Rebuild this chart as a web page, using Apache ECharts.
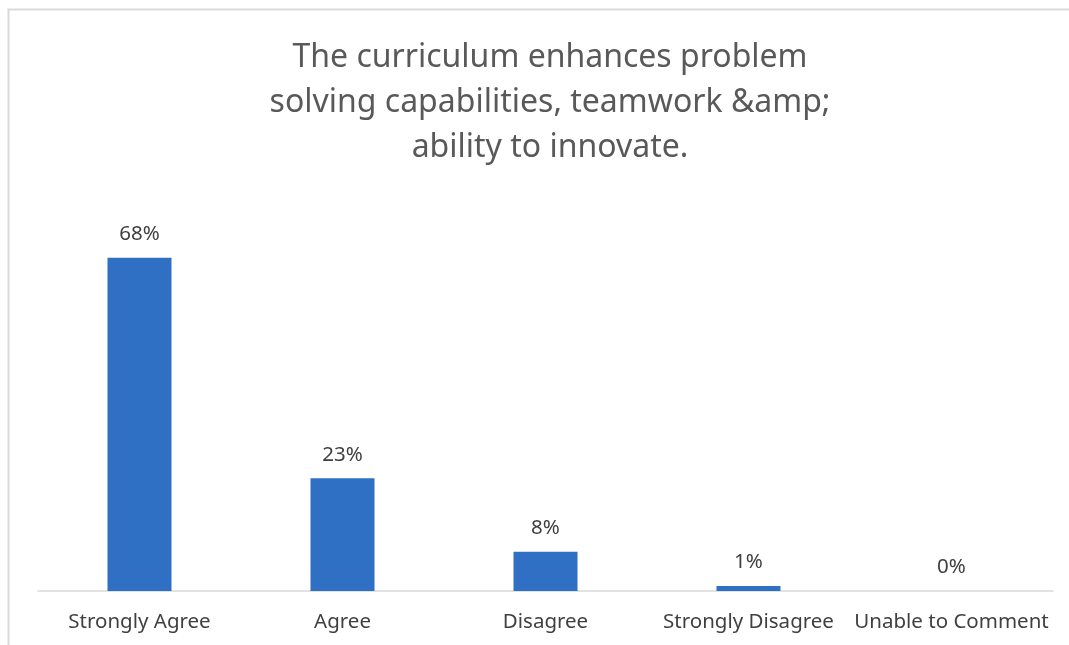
<!DOCTYPE html>
<html>
<head>
<meta charset="utf-8">
<script src="https://cdn.jsdelivr.net/npm/echarts@6/dist/echarts.min.js"></script>
<style>
  html, body { margin: 0; padding: 0; background: #fff; }
  #main { width: 1069px; height: 645px; }
</style>
</head>
<body>
<div id="main"></div>
<script>
var categories = ['Strongly Agree', 'Agree', 'Disagree', 'Strongly Disagree', 'Unable to Comment'];
var percents = [68, 23, 8, 1, 0];

var chart = echarts.init(document.getElementById('main'));
chart.setOption({
    animation: false,
    graphic: [{
        type: 'rect',
        shape: { x: 8.5, y: 9.5, width: 1200, height: 800 },
        style: { fill: 'none', stroke: '#d9d9d9', lineWidth: 2 },
        silent: true
    }],
    title: {
        text: 'The curriculum enhances problem\nsolving capabilities, teamwork &amp;\nability to innovate.',
        left: 545,
        top: 30,
        textAlign: 'center',
        textStyle: {
            fontFamily: 'Noto Sans',
            fontSize: 32,
            fontWeight: 'normal',
            color: '#595959',
            lineHeight: 45,
            align: 'center'
        }
    },
    grid: { left: 38, right: 16, top: 199, bottom: 54, containLabel: false },
    xAxis: {
        type: 'category',
        data: categories,
        axisTick: { show: false },
        axisLine: { lineStyle: { color: '#d9d9d9', width: 1.5 } },
        axisLabel: { color: '#404040', fontSize: 20.5, fontFamily: 'Noto Sans', margin: 21, interval: 0 }
    },
    yAxis: {
        type: 'value',
        min: 0,
        max: 80,
        show: false,
        splitLine: { show: false }
    },
    series: [{
        type: 'bar',
        data: percents,
        barWidth: 64,
        itemStyle: { color: '#3070c4' },
        label: {
            show: true,
            position: 'top',
            distance: 13,
            formatter: '{c}%',
            color: '#404040',
            fontSize: 20.5,
            fontFamily: 'Noto Sans'
        }
    }]
});
</script>
</body>
</html>
